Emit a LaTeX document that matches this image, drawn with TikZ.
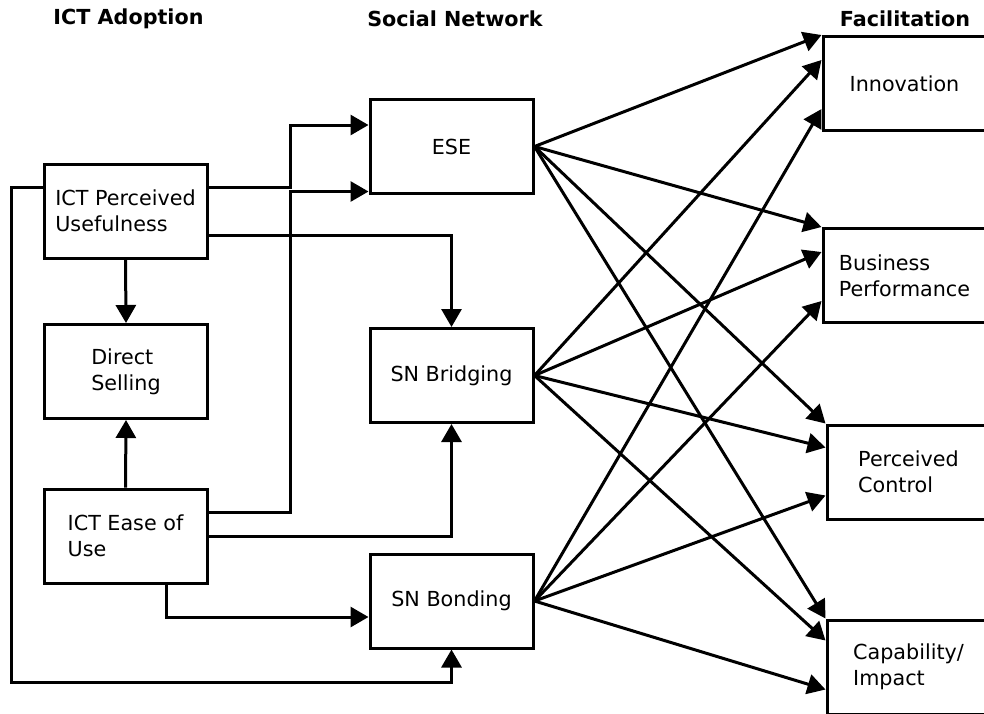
\documentclass[tikz,border=0pt]{standalone}
\usepackage{fontspec}
\setmainfont{DejaVu Sans}
\usetikzlibrary{calc,arrows.meta}

\tikzset{
    block/.style={
        draw,
        line width=3pt,
        minimum width=163pt,
        minimum height=94pt,
        inner sep=0pt,
        align=left,
        font=\fontsize{20.7}{26}\selectfont
    },
    heading/.style={font=\bfseries\fontsize{20.7}{24}\selectfont},
    link/.style={line width=3pt, -{Triangle[length=18pt,width=20pt]}}
}

\begin{document}
\begin{tikzpicture}[x=1pt, y=-1pt]

    % page
    \useasboundingbox (0,0) rectangle (984,713);
    \clip (0,0) rectangle (984,713);

    % headings
    \node[heading] (h_adopt) at (128.5,19) {ICT Adoption};
    \node[heading] (h_social) at (455,19) {Social Network};
    \node[heading] (h_facil) at (905,19) {Facilitation};

    % ICT adoption
    \node[block] (pu) at (125.5,211) {ICT Perceived\\Usefulness};
    \node[block] (ds) at (126,371.5) {Direct\\Selling};
    \node[block] (eu) at (125.5,536) {ICT Ease of\\Use};

    % social network
    \node[block] (ese) at (451.5,146.5) {ESE};
    \node[block] (bri) at (451.5,375.5) {SN Bridging};
    \node[block] (bon) at (451.5,601) {SN Bonding};

    % facilitation
    \node[block] (inn) at (904.5,83.5) {Innovation};
    \node[block] (bp) at (904.5,275.5) {Business\\Performance};
    \node[block] (pc) at (908.5,472) {Perceived\\Control};
    \node[block] (cap) at (908.5,667) {Capability/\\Impact};

    % adoption links
    \draw[link]
        (pu.south) --
        (ds.north);
    \draw[link]
        (eu.north) --
        (ds.south);
    \draw[link]
        ($(pu.east)+(0,-24)$) -- ++(82,0) |-
        ($(ese.west)+(0,-21.5)$);
    \draw[link]
        ($(eu.east)+(0,-24)$) -- ++(82,0) |-
        ($(ese.west)+(0,45)$);
    \draw[link]
        ($(pu.east)+(0,24)$) -|
        (bri.north);
    \draw[link]
        (eu.east) -|
        (bri.south);
    \draw[link]
        ($(eu.south)+(40.5,0)$) |-
        ($(bon.west)+(0,16)$);

    % long way round
    \coordinate (loop) at (11,682);
    \draw[link]
        ($(pu.west)+(0,-24)$) -|
        (loop) -|
        (bon.south);

    % network to facilitation
    \draw[link] (ese.east) -- (inn.north west);
    \draw[link] (bri.east) -- ($(inn.north west)+(0,25)$);
    \draw[link] (bon.east) -- ($(inn.north west)+(0,74)$);

    \draw[link] (ese.east) -- (bp.north west);
    \draw[link] (bri.east) -- ($(bp.north west)+(0,25)$);
    \draw[link] (bon.east) -- ($(bp.north west)+(0,74)$);

    \draw[link] (ese.east) -- (pc.north west);
    \draw[link] (bri.east) -- ($(pc.north west)+(0,24)$);
    \draw[link] (bon.east) -- ($(pc.north west)+(0,72)$);

    \draw[link] (ese.east) -- (cap.north west);
    \draw[link] (bri.east) -- ($(cap.north west)+(0,22)$);
    \draw[link] (bon.east) -- ($(cap.north west)+(0,71)$);

\end{tikzpicture}
\end{document}
